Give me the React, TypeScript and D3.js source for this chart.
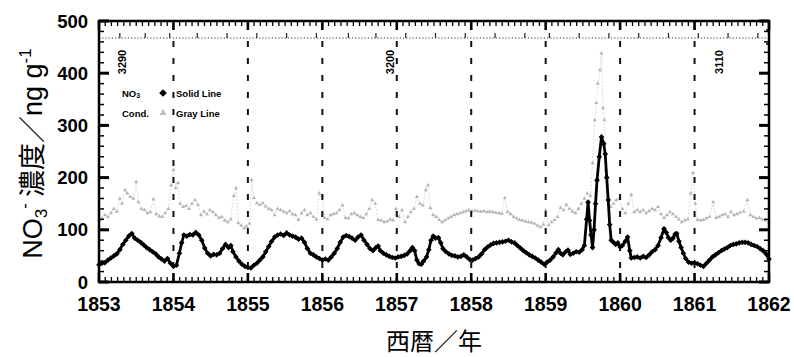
import React from "react";
import * as d3 from "d3";

// ---- data ----
const yearTicks = [1853, 1854, 1855, 1856, 1857, 1858, 1859, 1860, 1861, 1862];
const valueTicks = [0, 100, 200, 300, 400, 500];
const depthLabels: [number, number][] = [
  [3290, 1853.31],
  [3200, 1856.91],
  [3110, 1861.33],
];
const depthTickYears = [
  1853.28, 1853.62, 1853.95, 1854.32, 1854.72, 1855.12, 1855.52, 1855.92, 1856.35, 1856.72,
  1857.12, 1857.52, 1857.92, 1858.32, 1858.72, 1859.05, 1859.45, 1859.85, 1860.25, 1860.65,
  1861.05, 1861.45, 1861.85,
];

const no3Data: [number, number][] = [
  [1853.0, 33], [1853.04, 36], [1853.08, 37], [1853.12, 42], [1853.16, 46], [1853.2, 50],
  [1853.24, 54], [1853.28, 62], [1853.32, 72], [1853.36, 80], [1853.4, 88], [1853.44, 93],
  [1853.48, 84], [1853.52, 80], [1853.56, 76], [1853.6, 71], [1853.64, 66], [1853.68, 62],
  [1853.72, 58], [1853.76, 54], [1853.8, 48], [1853.84, 44], [1853.88, 40], [1853.92, 45],
  [1853.96, 36], [1854.0, 30], [1854.04, 32], [1854.08, 55], [1854.11, 75], [1854.14, 90],
  [1854.18, 88], [1854.22, 91], [1854.26, 90], [1854.3, 95], [1854.34, 90], [1854.38, 80],
  [1854.42, 65], [1854.46, 55], [1854.5, 50], [1854.54, 53], [1854.58, 52], [1854.62, 55],
  [1854.66, 64], [1854.7, 72], [1854.74, 66], [1854.77, 70], [1854.8, 58], [1854.84, 48],
  [1854.88, 40], [1854.92, 34], [1854.96, 30], [1855.0, 28], [1855.04, 27], [1855.08, 32],
  [1855.12, 36], [1855.16, 42], [1855.2, 48], [1855.24, 58], [1855.28, 68], [1855.32, 78],
  [1855.36, 86], [1855.4, 90], [1855.44, 92], [1855.48, 89], [1855.52, 94], [1855.56, 90],
  [1855.6, 88], [1855.64, 86], [1855.68, 82], [1855.72, 84], [1855.76, 76], [1855.8, 64],
  [1855.84, 55], [1855.88, 52], [1855.92, 48], [1855.96, 45], [1856.0, 42], [1856.04, 44],
  [1856.08, 42], [1856.12, 48], [1856.16, 55], [1856.2, 64], [1856.24, 76], [1856.28, 86],
  [1856.32, 89], [1856.36, 87], [1856.4, 84], [1856.44, 80], [1856.48, 86], [1856.52, 90],
  [1856.56, 80], [1856.6, 72], [1856.64, 64], [1856.68, 60], [1856.72, 66], [1856.75, 69],
  [1856.78, 60], [1856.82, 55], [1856.86, 52], [1856.9, 49], [1856.94, 47], [1856.98, 46],
  [1857.02, 48], [1857.06, 49], [1857.1, 51], [1857.14, 54], [1857.18, 60], [1857.21, 66],
  [1857.24, 60], [1857.27, 42], [1857.3, 35], [1857.33, 34], [1857.36, 40], [1857.4, 48],
  [1857.43, 62], [1857.46, 80], [1857.49, 88], [1857.52, 84], [1857.56, 85], [1857.59, 75],
  [1857.62, 64], [1857.66, 58], [1857.7, 54], [1857.74, 51], [1857.78, 50], [1857.82, 48],
  [1857.86, 49], [1857.9, 52], [1857.94, 48], [1857.98, 43], [1858.02, 42], [1858.06, 45],
  [1858.1, 48], [1858.14, 54], [1858.18, 62], [1858.22, 67], [1858.26, 71], [1858.3, 74],
  [1858.34, 75], [1858.38, 76], [1858.42, 77], [1858.46, 78], [1858.5, 80], [1858.54, 77],
  [1858.58, 75], [1858.62, 70], [1858.66, 65], [1858.7, 60], [1858.74, 56], [1858.78, 52],
  [1858.82, 49], [1858.86, 46], [1858.9, 42], [1858.94, 38], [1858.98, 34], [1859.02, 38],
  [1859.06, 42], [1859.1, 48], [1859.14, 56], [1859.17, 62], [1859.2, 55], [1859.23, 52],
  [1859.27, 58], [1859.3, 61], [1859.33, 53], [1859.37, 55], [1859.41, 58], [1859.45, 57],
  [1859.49, 62], [1859.52, 70], [1859.55, 120], [1859.57, 153], [1859.59, 118], [1859.61, 90],
  [1859.63, 66], [1859.65, 100], [1859.67, 150], [1859.69, 195], [1859.72, 240], [1859.75, 278],
  [1859.78, 265], [1859.8, 245], [1859.82, 200], [1859.84, 157], [1859.86, 110], [1859.88, 80],
  [1859.91, 76], [1859.94, 72], [1859.97, 75], [1860.0, 67], [1860.03, 70], [1860.07, 78],
  [1860.1, 86], [1860.13, 60], [1860.15, 46], [1860.19, 47], [1860.23, 48], [1860.27, 46],
  [1860.31, 49], [1860.35, 47], [1860.39, 52], [1860.43, 58], [1860.47, 62], [1860.51, 70],
  [1860.55, 85], [1860.59, 102], [1860.62, 95], [1860.65, 85], [1860.68, 80], [1860.71, 84],
  [1860.74, 92], [1860.76, 93], [1860.79, 78], [1860.82, 66], [1860.85, 55], [1860.88, 45],
  [1860.92, 38], [1860.96, 36], [1861.0, 37], [1861.04, 35], [1861.08, 32], [1861.12, 30],
  [1861.16, 36], [1861.2, 42], [1861.24, 48], [1861.28, 52], [1861.32, 56], [1861.36, 60],
  [1861.4, 63], [1861.44, 66], [1861.48, 70], [1861.52, 72], [1861.56, 73], [1861.6, 75],
  [1861.64, 76], [1861.68, 76], [1861.72, 75], [1861.76, 72], [1861.8, 70], [1861.84, 68],
  [1861.88, 64], [1861.92, 60], [1861.96, 54], [1862.0, 44],
];

const condData: [number, number][] = [
  [1853.0, 118], [1853.04, 122], [1853.08, 128], [1853.12, 125], [1853.16, 132], [1853.2, 140],
  [1853.24, 135], [1853.28, 160], [1853.31, 150], [1853.35, 176], [1853.38, 170], [1853.42, 163],
  [1853.46, 160], [1853.5, 192], [1853.53, 153], [1853.57, 140], [1853.61, 138], [1853.65, 132],
  [1853.69, 134], [1853.73, 159], [1853.77, 130], [1853.81, 126], [1853.85, 125], [1853.89, 132],
  [1853.93, 140], [1853.97, 185], [1854.0, 215], [1854.03, 180], [1854.06, 190], [1854.09, 150],
  [1854.13, 144], [1854.17, 146], [1854.21, 140], [1854.25, 150], [1854.29, 157], [1854.33, 148],
  [1854.37, 128], [1854.41, 135], [1854.45, 130], [1854.49, 138], [1854.53, 134], [1854.57, 128],
  [1854.61, 123], [1854.65, 125], [1854.69, 118], [1854.73, 115], [1854.77, 120], [1854.81, 165],
  [1854.84, 180], [1854.87, 113], [1854.91, 108], [1854.95, 103], [1854.98, 106], [1855.02, 112],
  [1855.05, 195], [1855.08, 161], [1855.12, 151], [1855.16, 148], [1855.2, 151], [1855.24, 145],
  [1855.28, 140], [1855.32, 138], [1855.36, 128], [1855.4, 140], [1855.44, 138], [1855.48, 135],
  [1855.52, 132], [1855.56, 136], [1855.6, 130], [1855.64, 128], [1855.68, 119], [1855.72, 132],
  [1855.76, 138], [1855.8, 128], [1855.84, 132], [1855.88, 125], [1855.92, 120], [1855.96, 170],
  [1856.0, 165], [1856.03, 123], [1856.07, 120], [1856.11, 128], [1856.15, 130], [1856.19, 132],
  [1856.23, 138], [1856.27, 147], [1856.31, 123], [1856.35, 122], [1856.39, 130], [1856.43, 132],
  [1856.47, 128], [1856.51, 125], [1856.55, 123], [1856.59, 130], [1856.63, 140], [1856.67, 157],
  [1856.71, 150], [1856.75, 119], [1856.79, 118], [1856.83, 115], [1856.87, 116], [1856.91, 120],
  [1856.95, 118], [1856.99, 140], [1857.03, 125], [1857.07, 138], [1857.11, 115], [1857.15, 125],
  [1857.19, 134], [1857.23, 140], [1857.27, 163], [1857.31, 150], [1857.35, 147], [1857.39, 176],
  [1857.42, 185], [1857.45, 142], [1857.49, 128], [1857.53, 125], [1857.57, 119], [1857.61, 115],
  [1857.65, 118], [1857.69, 122], [1857.73, 125], [1857.77, 128], [1857.81, 130], [1857.85, 132],
  [1857.89, 134], [1857.93, 136], [1857.97, 138], [1858.01, 136], [1858.05, 137], [1858.09, 136],
  [1858.13, 135], [1858.17, 136], [1858.21, 134], [1858.25, 135], [1858.29, 134], [1858.33, 133],
  [1858.37, 132], [1858.41, 131], [1858.45, 161], [1858.49, 134], [1858.53, 130], [1858.57, 125],
  [1858.61, 122], [1858.65, 119], [1858.69, 118], [1858.73, 116], [1858.77, 115], [1858.81, 114],
  [1858.85, 112], [1858.89, 108], [1858.93, 105], [1858.97, 110], [1859.0, 138], [1859.04, 109],
  [1859.08, 115], [1859.12, 119], [1859.16, 125], [1859.2, 142], [1859.24, 138], [1859.28, 148],
  [1859.32, 140], [1859.36, 135], [1859.4, 132], [1859.44, 140], [1859.48, 150], [1859.52, 160],
  [1859.56, 170], [1859.6, 165], [1859.63, 228], [1859.66, 310], [1859.68, 343], [1859.7, 380],
  [1859.73, 406], [1859.75, 438], [1859.77, 333], [1859.79, 310], [1859.81, 215], [1859.84, 160],
  [1859.87, 144], [1859.91, 150], [1859.95, 157], [1859.99, 160], [1860.03, 140], [1860.07, 132],
  [1860.11, 150], [1860.15, 167], [1860.19, 134], [1860.23, 138], [1860.27, 134], [1860.31, 138],
  [1860.35, 132], [1860.39, 136], [1860.43, 140], [1860.47, 138], [1860.51, 144], [1860.55, 130],
  [1860.59, 123], [1860.63, 128], [1860.67, 134], [1860.71, 130], [1860.75, 125], [1860.79, 120],
  [1860.83, 115], [1860.87, 118], [1860.91, 120], [1860.95, 170], [1860.98, 209], [1861.01, 150],
  [1861.04, 119], [1861.08, 118], [1861.12, 119], [1861.16, 122], [1861.2, 125], [1861.25, 153],
  [1861.29, 123], [1861.33, 125], [1861.37, 128], [1861.41, 130], [1861.45, 125], [1861.49, 134],
  [1861.53, 128], [1861.57, 130], [1861.61, 133], [1861.66, 135], [1861.71, 157], [1861.75, 128],
  [1861.79, 125], [1861.83, 122], [1861.87, 123], [1861.91, 120], [1861.95, 118], [1862.0, 115],
];

// ---- layout ----
const W = 794;
const H = 357;
const L = 99;
const R = 769;
const T = 21;
const B = 282;
const depthLineY = 38;
const tickFont = "'Liberation Sans', Arial, Helvetica, sans-serif";
const cjkFont = "'Liberation Sans', Arial, 'Noto Sans CJK JP', sans-serif";

export default function App() {
  const x = d3.scaleLinear().domain([1853, 1862]).range([L, R]);
  const y = d3.scaleLinear().domain([0, 500]).range([B, T]);

  const line = d3
    .line<[number, number]>()
    .x((d) => x(d[0]))
    .y((d) => y(d[1]));

  const diamond = d3.symbol().type(d3.symbolSquare).size(16)()!;
  const triangle = d3.symbol().type(d3.symbolTriangle).size(7)()!;
  const legendDiamond = d3.symbol().type(d3.symbolSquare).size(30)()!;
  const legendTriangle = d3.symbol().type(d3.symbolTriangle).size(22)()!;

  const months = d3.range(0, 9 * 12 + 1).map((i) => 1853 + i / 12);
  const valMinor = d3.range(0, 501, 20);
  const innerYears = yearTicks.slice(1, -1);

  return (
    <svg width={W} height={H} style={{ display: "block", position: "absolute", left: 0, top: 0 }}>
      <rect x={0} y={0} width={W} height={H} fill="#fff" />

      {/* gray conductivity series */}
      <path d={line(condData)!} fill="none" stroke="#d2d2d2" strokeWidth={0.8} strokeDasharray="2,1.5" />
      {condData.map((d, i) => (
        <path key={"c" + i} d={triangle} transform={`translate(${x(d[0])},${y(d[1])})`} fill="#b4b4b4" />
      ))}

      {/* vertical dashed year lines */}
      {innerYears.map((yr) => (
        <line key={"v" + yr} x1={x(yr)} x2={x(yr)} y1={depthLineY + 3} y2={B} stroke="#111" strokeWidth={2} strokeDasharray="6,11" />
      ))}

      {/* NO3 series */}
      <path d={line(no3Data)!} fill="none" stroke="#000" strokeWidth={2.8} strokeLinejoin="round" />
      {no3Data.map((d, i) => (
        <path key={"n" + i} d={diamond} transform={`translate(${x(d[0])},${y(d[1])}) rotate(45)`} fill="#000" />
      ))}

      {/* depth scale (dotted line) */}
      <line x1={L} x2={R} y1={depthLineY} y2={depthLineY} stroke="#333" strokeWidth={1} strokeDasharray="1.2,2" />
      {depthTickYears.map((yr, i) => (
        <line key={"dt" + i} x1={x(yr)} x2={x(yr)} y1={depthLineY} y2={depthLineY - 5} stroke="#222" strokeWidth={1.2} />
      ))}
      <line x1={R - 3} x2={R} y1={depthLineY - 8} y2={depthLineY - 8} stroke="#000" strokeWidth={1.5} />
      <line x1={R - 3} x2={R} y1={depthLineY + 6} y2={depthLineY + 6} stroke="#000" strokeWidth={1.5} />
      {depthLabels.map(([dep, yr]) => (
        <text
          key={"dl" + dep}
          transform={`translate(${x(yr) + 4},${62}) rotate(-90)`}
          textAnchor="middle"
          fontFamily={tickFont}
          fontWeight="bold"
          fontSize={11}
          fill="#000"
        >
          {dep}
        </text>
      ))}

      {/* frame */}
      <rect x={L} y={T} width={R - L} height={B - T} fill="none" stroke="#000" strokeWidth={2.5} />

      {/* top & bottom ticks (monthly) */}
      {months.map((m, i) => {
        const major = i % 12 === 0;
        const len = major ? 9 : 5;
        const sw = major ? 2.6 : 1.3;
        return (
          <g key={"m" + i}>
            <line x1={x(m)} x2={x(m)} y1={T} y2={T + len} stroke="#000" strokeWidth={sw} />
            <line x1={x(m)} x2={x(m)} y1={B} y2={B - len} stroke="#000" strokeWidth={sw} />
          </g>
        );
      })}

      {/* left & right ticks */}
      {valMinor.map((v) => {
        const major = v % 100 === 0;
        const len = major ? 10 : 5;
        const sw = major ? 3 : 1.5;
        return (
          <g key={"t" + v}>
            <line x1={L} x2={L + len} y1={y(v)} y2={y(v)} stroke="#000" strokeWidth={sw} />
            <line x1={R} x2={R - len} y1={y(v)} y2={y(v)} stroke="#000" strokeWidth={sw} />
          </g>
        );
      })}

      {/* y tick labels */}
      {valueTicks.map((v) => (
        <text key={"yl" + v} x={L - 11} y={y(v) + 6.5} textAnchor="end" fontFamily={tickFont} fontWeight="bold" fontSize={18.5} fill="#000">
          {v}
        </text>
      ))}

      {/* x tick labels */}
      {yearTicks.map((yr) => (
        <text key={"xl" + yr} x={x(yr)} y={311} textAnchor="middle" fontFamily={tickFont} fontWeight="bold" fontSize={19.5} fill="#000">
          {yr}
        </text>
      ))}

      {/* legend */}
      <g fontFamily={tickFont} fontWeight="bold" fontSize={9.5} fill="#000">
        <text x={122} y={97}>
          NO<tspan fontSize={7} dy={1}>3</tspan>
        </text>
        <path d={legendDiamond} transform="translate(163,93) rotate(45)" fill="#000" />
        <text x={176} y={97}>Solid Line</text>
        <text x={122} y={117}>Cond.</text>
        <path d={legendTriangle} transform="translate(163,113)" fill="#bcbcbc" />
        <text x={176} y={117}>Gray Line</text>
      </g>

      {/* axis titles */}
      <text
        transform={`translate(42,${(T + B) / 2 + 2}) rotate(-90)`}
        textAnchor="middle"
        fontFamily={cjkFont}
        fontSize={27}
        fill="#000"
      >
        NO<tspan fontSize={17} dy={5}>3</tspan>
        <tspan fontSize={17} dy={-17}>-</tspan>
        <tspan dy={12} fontFamily="'Noto Sans CJK JP', sans-serif"> 濃度／</tspan>
        <tspan>ng g</tspan>
        <tspan fontSize={17} dy={-11}>-1</tspan>
      </text>
      <text x={(L + R) / 2} y={350} textAnchor="middle" fontFamily="'Noto Sans CJK JP', sans-serif" fontSize={24} fill="#000">
        西暦／年
      </text>
    </svg>
  );
}
